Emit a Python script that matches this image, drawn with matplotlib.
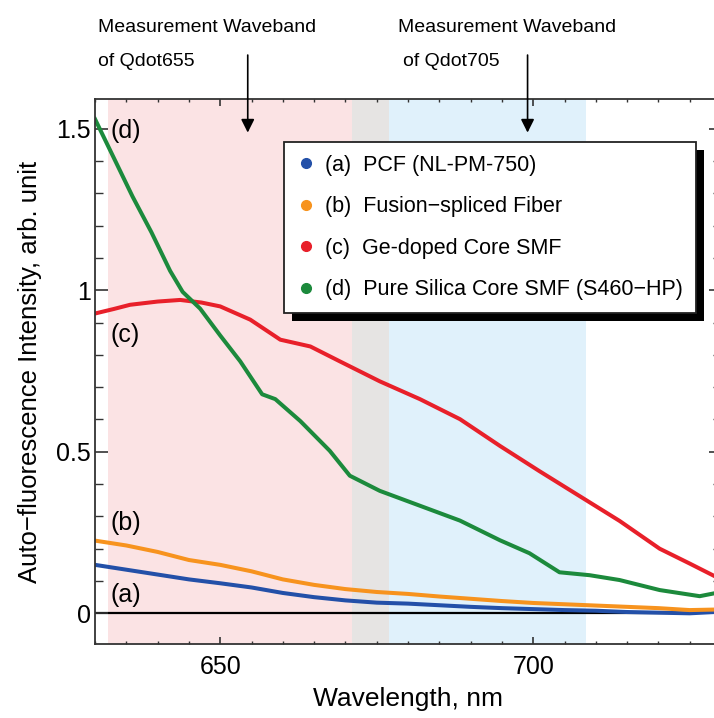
import matplotlib.pyplot as plt
from matplotlib.lines import Line2D
from matplotlib.patches import Rectangle
from matplotlib.ticker import MultipleLocator

plt.rcParams["font.family"] = ["Liberation Sans", "DejaVu Sans"]

# (a) PCF (NL-PM-750)
wl_a = [630, 635, 640, 645, 650, 655, 660, 665, 670, 675, 680, 685, 690,
        695, 700, 705, 710, 715, 720, 725, 730]
val_a = [0.150, 0.135, 0.120, 0.105, 0.093, 0.080, 0.063, 0.050, 0.040,
         0.033, 0.030, 0.025, 0.020, 0.016, 0.013, 0.010, 0.008, 0.004,
         0.002, 0.000, 0.005]

# (b) Fusion-spliced fiber
wl_b = [630, 635, 640, 645, 650, 655, 660, 665, 670, 675, 680, 685, 690,
        695, 700, 705, 710, 715, 720, 725, 730]
val_b = [0.225, 0.210, 0.190, 0.165, 0.150, 0.130, 0.105, 0.088, 0.075,
         0.066, 0.060, 0.052, 0.045, 0.038, 0.032, 0.028, 0.024, 0.020,
         0.016, 0.010, 0.012]

# (c) Ge-doped core SMF
wl_c = [630, 633, 635.6, 640, 643.6, 647, 650, 654.8, 659.6, 664.4, 669.1,
        675.5, 681.9, 688.3, 694.7, 701, 707.4, 713.8, 720.2, 725, 730]
val_c = [0.928, 0.942, 0.955, 0.965, 0.970, 0.962, 0.950, 0.909, 0.847,
         0.826, 0.780, 0.718, 0.663, 0.601, 0.518, 0.440, 0.363, 0.286,
         0.200, 0.154, 0.105]

# (d) Pure silica core SMF (S460-HP)
wl_d = [630, 633, 636, 639, 642, 644, 646.8, 650, 653.2, 656.7, 658.8,
        662.8, 667.5, 670.7, 675.5, 681.9, 688.3, 694.7, 699.4, 704.2,
        709, 713.8, 720.2, 726.6, 730]
val_d = [1.530, 1.410, 1.290, 1.180, 1.060, 0.995, 0.943, 0.860, 0.780,
         0.678, 0.663, 0.595, 0.503, 0.426, 0.379, 0.333, 0.287, 0.226,
         0.186, 0.127, 0.118, 0.103, 0.072, 0.053, 0.066]

series = [(wl_a, val_a), (wl_b, val_b), (wl_c, val_c), (wl_d, val_d)]
colors = ["#2350a8", "#f7931e", "#e8202a", "#1c8a3c"]
legend_labels = ["(a)  PCF (NL-PM-750)",
                 "(b)  Fusion\u2212spliced Fiber",
                 "(c)  Ge-doped Core SMF",
                 "(d)  Pure Silica Core SMF (S460\u2212HP)"]
curve_tags = ["(a)", "(b)", "(c)", "(d)"]
tag_y = [0.056, 0.278, 0.863, 1.494]

# measurement wavebands (nm)
band_655 = (632, 671)
band_overlap = (671, 677)
band_705 = (677, 708.5)
arrow_x = [654.4, 699.1]
zero_x = [630, 724.5]

fig = plt.figure(figsize=(7.14, 7.18), dpi=100)
ax = fig.add_axes([95 / 714, 1 - 644 / 718, (721 - 95) / 714, (644 - 99) / 718])

ax.axvspan(*band_655, color="#fbe3e4", lw=0, zorder=0)
ax.axvspan(*band_overlap, color="#e6e4e3", lw=0, zorder=0)
ax.axvspan(*band_705, color="#e0f1fb", lw=0, zorder=0)

ax.plot(zero_x, [0, 0], color="black", lw=1.6, zorder=1)
for (x, y), c in zip(series, colors):
    ax.plot(x, y, color=c, lw=2.9, zorder=2, solid_joinstyle="round")

for tag, ty in zip(curve_tags, tag_y):
    ax.text(632.5, ty, tag, fontsize=18, ha="left", va="center", zorder=3)

ax.set_xlim(630, 730)
ax.set_ylim(-0.095, 1.592)
ax.xaxis.set_major_locator(MultipleLocator(50))
ax.xaxis.set_minor_locator(MultipleLocator(5))
ax.yaxis.set_major_locator(MultipleLocator(0.5))
ax.yaxis.set_minor_locator(MultipleLocator(0.1))
ax.set_yticks([0, 0.5, 1, 1.5], ["0", "0.5", "1", "1.5"])
ax.tick_params(axis="both", which="both", direction="in",
               top=True, right=True, labelsize=18, color="#333333")
ax.tick_params(axis="x", which="major", length=5, width=1.2, pad=8)
ax.tick_params(axis="x", which="minor", length=2.5, width=1.0)
ax.tick_params(axis="y", which="major", length=9, width=1.2, pad=3)
ax.tick_params(axis="y", which="minor", length=5.5, width=1.0)
for s in ax.spines.values():
    s.set_linewidth(1.3)
    s.set_color("#333333")

ax.set_xlabel("Wavelength, nm", fontsize=19, labelpad=6)
ax.set_ylabel("Auto\u2212fluorescence Intensity, arb. unit", fontsize=18.5,
              labelpad=10)

# top annotations with arrows
fig.text(98 / 714, 1 - 27 / 718, "Measurement Waveband", fontsize=14,
         va="center", ha="left")
fig.text(98 / 714, 1 - 61 / 718, "of Qdot655", fontsize=14,
         va="center", ha="left")
fig.text(398 / 714, 1 - 27 / 718, "Measurement Waveband", fontsize=14,
         va="center", ha="left")
fig.text(403 / 714, 1 - 62 / 718, "of Qdot705", fontsize=14,
         va="center", ha="left")
for xa in arrow_x:
    ax.annotate("", xy=(xa, 1.488), xytext=(xa, 1.728),
                arrowprops=dict(arrowstyle="-|>", color="black", lw=1.2,
                                mutation_scale=20, shrinkA=0, shrinkB=0),
                annotation_clip=False, zorder=4)

handles = [Line2D([], [], marker="o", ls="none", color=c, markersize=7)
           for c in colors]
leg = ax.legend(handles, legend_labels, loc="upper left",
                bbox_to_anchor=(284 / 714, 1 - 142 / 718),
                bbox_transform=fig.transFigure, borderaxespad=0,
                fontsize=15.5, frameon=True, fancybox=False, framealpha=1,
                edgecolor="#222222", handlelength=0.8, handletextpad=0.5,
                borderpad=0.6, labelspacing=0.95)
leg.get_frame().set_linewidth(1.3)
leg.set_zorder(5)

# drop shadow behind legend box
fig.canvas.draw()
bb = leg.get_window_extent().transformed(fig.transFigure.inverted())
dx, dy = 8 / 714, 8 / 718
ax.add_patch(Rectangle((bb.x0 + dx, bb.y0 - dy), bb.width, bb.height,
                       transform=fig.transFigure, facecolor="black",
                       edgecolor="none", zorder=4.5, clip_on=False))

fig.savefig("out.png", dpi=100)
